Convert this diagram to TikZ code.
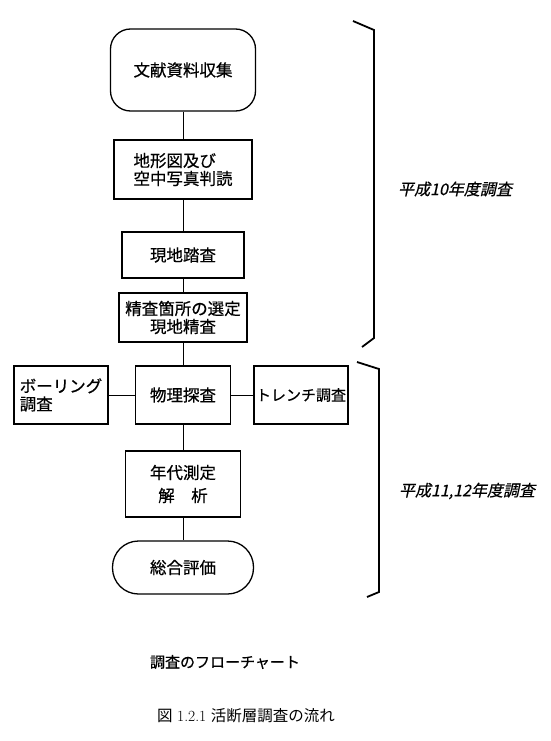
\documentclass[tikz,border=0pt]{standalone}
\usepackage{fontspec}
\usetikzlibrary{positioning}
\newfontfamily\jp[FakeBold=0.6]{Noto Sans CJK JP}
\newfontfamily\jplight{Noto Sans CJK JP}
\newfontfamily\jpit[FakeSlant=0.22,FakeBold=0.5]{Noto Sans CJK JP}
\tikzset{proc/.style={draw,line width=1.3pt,inner sep=0pt,align=center,
  font=\jp\fontsize{16.5}{18}\selectfont},
term/.style={proc,rounded corners=20pt},
link/.style={line width=.9pt},
brace/.style={line width=1.8pt,line join=miter},
lab/.style={font=\jpit\fontsize{16}{19}\selectfont}}

\begin{document}
\begin{tikzpicture}[x=1pt,y=-1pt]
\useasboundingbox (0,0) rectangle (551,741);
% main column
\node[term,minimum width=145pt,minimum height=82pt] (docs) at (183,70) {文献資料収集};
\node[proc,align=left,minimum width=138pt,minimum height=59pt] (topo) at (183,169.5) {地形図及び\\空中写真判読};
\node[proc,minimum width=122pt,minimum height=46pt] (walk) at (183,255) {現地踏査};
\node[proc,minimum width=128pt,minimum height=49pt] (site) at (183,317.5) {精査箇所の選定\\現地精査};
\node[proc,minimum width=95pt,minimum height=58pt] (phys) at (183,395) {物理探査};
\node[proc,align=left,minimum width=94pt,minimum height=58pt] (bore) at (61,395) {ボーリング\\調査};
\node[proc,minimum width=94pt,minimum height=58pt,font=\jp\fontsize{15}{18}\selectfont] (trench) at (301,395) {トレンチ調査};
\node[proc,minimum width=115pt,minimum height=66pt] (date) at (183,484) {年代測定\\[5pt]解　析};
\node[proc,rounded corners=26pt,minimum width=141pt,minimum height=53pt] (eval) at (183,567.5) {総合評価};
\draw[link] (docs) -- (topo);
\draw[link] (topo) -- (walk);
\draw[link] (walk) -- (site);
\draw[link] (site) -- (phys);
\draw[link] (bore) -- (phys);
\draw[link] (phys) -- (trench);
\draw[link] (phys) -- (date);
\draw[link] (date) -- (eval);
% brackets
\draw[brace] (353,21) -- (374,30) -- (374,338) -- (362,347);
\draw[brace] (357,362) -- (379,369) -- (379,592) -- (367,597);
\node[lab] (yr10) at (455,189) {平成10年度調査};
\node[lab] (yr11) at (467,491) {平成11,12年度調査};
% captions
\node[font=\jp\fontsize{15}{18}\selectfont] (title) at (225,662) {調査のフローチャート};
\node[font=\fontsize{15.5}{18}\selectfont] (fig) at (246,716) {{\jplight 図} 1.2.1 {\jplight 活断層調査の流れ}};
\end{tikzpicture}
\end{document}
